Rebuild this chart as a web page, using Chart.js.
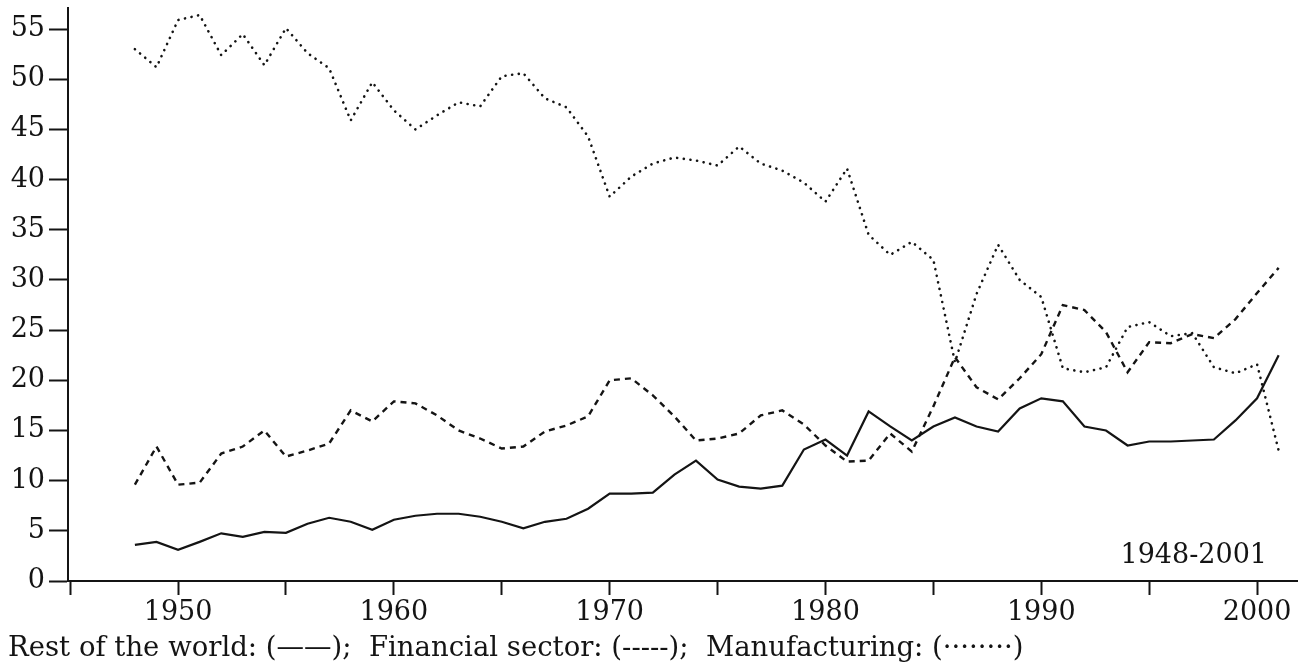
<!DOCTYPE html>
<html>
<head>
<meta charset="utf-8">
<script src="https://cdn.jsdelivr.net/npm/chart.js@4.4.1/dist/chart.umd.min.js"></script>
<style>
  body { margin: 0; background: #fff; }
  #wrap { position: relative; width: 1309px; height: 668px; }
</style>
</head>
<body>
<div id="wrap"><canvas id="chart"></canvas></div>
<script>
// values (share, %)
const years = [1948, 1949, 1950, 1951, 1952, 1953, 1954, 1955, 1956, 1957,
  1958, 1959, 1960, 1961, 1962, 1963, 1964, 1965, 1966, 1967,
  1968, 1969, 1970, 1971, 1972, 1973, 1974, 1975, 1976, 1977,
  1978, 1979, 1980, 1981, 1982, 1983, 1984, 1985, 1986, 1987,
  1988, 1989, 1990, 1991, 1992, 1993, 1994, 1995, 1996, 1997,
  1998, 1999, 2000, 2001];

const restOfWorld = [3.6, 3.9, 3.1, 3.9, 4.75, 4.4, 4.9, 4.8, 5.7, 6.3,
  5.9, 5.1, 6.1, 6.5, 6.7, 6.7, 6.4, 5.9, 5.25, 5.9,
  6.2, 7.2, 8.7, 8.7, 8.8, 10.6, 12.0, 10.1, 9.4, 9.2,
  9.5, 13.1, 14.1, 12.5, 16.9, 15.4, 14.0, 15.4, 16.3, 15.4,
  14.9, 17.2, 18.2, 17.9, 15.4, 15.0, 13.5, 13.9, 13.9, 14.0,
  14.1, 16.0, 18.2, 22.5];

const financialSector = [9.6, 13.4, 9.6, 9.8, 12.7, 13.4, 15.0, 12.4, 13.0, 13.7,
  17.0, 15.9, 17.9, 17.7, 16.5, 15.0, 14.2, 13.2, 13.4, 14.9,
  15.5, 16.4, 20.0, 20.2, 18.5, 16.4, 14.0, 14.2, 14.7, 16.5,
  17.0, 15.6, 13.5, 11.9, 12.0, 14.7, 12.9, 17.4, 22.3, 19.3,
  18.1, 20.2, 22.6, 27.5, 27.0, 24.8, 20.8, 23.8, 23.7, 24.6,
  24.2, 26.1, 28.7, 31.2];

const manufacturing = [53.0, 51.2, 55.9, 56.4, 52.4, 54.5, 51.4, 55.1, 52.6, 51.1,
  45.9, 49.7, 46.9, 45.0, 46.4, 47.7, 47.3, 50.3, 50.6, 48.1,
  47.2, 44.3, 38.3, 40.3, 41.6, 42.2, 41.9, 41.4, 43.3, 41.6,
  40.9, 39.7, 37.8, 41.1, 34.5, 32.5, 33.8, 32.0, 21.8, 28.6,
  33.5, 30.0, 28.3, 21.2, 20.8, 21.3, 25.3, 25.8, 24.4, 24.7,
  21.3, 20.7, 21.6, 13.0];

const xTickValues = [1945, 1950, 1955, 1960, 1965, 1970, 1975, 1980, 1985, 1990, 1995, 2000];
const xTickLabels = ['', '1950', '', '1960', '', '1970', '', '1980', '', '1990', '', '2000'];
const yTickValues = [0, 5, 10, 15, 20, 25, 30, 35, 40, 45, 50, 55];

const periodLabel = '1948-2001';
const legendLabel = 'Rest of the world: (——);  Financial sector: (-----);  Manufacturing: (········)';

const ink = '#141414';
const serif = 'DejaVu Serif';

function pairs(vals) {
  return years.map(function(yr, i) { return {x: yr, y: vals[i]}; });
}

const textPlugin = {
  id: 'texts',
  afterDraw: function(chart) {
    const ctx = chart.ctx;
    const area = chart.chartArea;
    ctx.save();
    ctx.fillStyle = ink;
    ctx.font = '27px "' + serif + '"';
    ctx.textBaseline = 'alphabetic';
    ctx.textAlign = 'right';
    ctx.fillText(periodLabel, area.right - 30, area.bottom - 18);
    ctx.textAlign = 'left';
    ctx.font = '27.5px "' + serif + '"';
    ctx.fillText(legendLabel, 8, 656);
    ctx.restore();
  }
};

new Chart(document.getElementById('chart'), {
  type: 'line',
  data: {
    datasets: [
      {
        label: 'Rest of the world',
        data: pairs(restOfWorld),
        borderColor: ink,
        borderWidth: 2.2,
        pointRadius: 0,
        tension: 0
      },
      {
        label: 'Financial sector',
        data: pairs(financialSector),
        borderColor: ink,
        borderWidth: 2.4,
        borderDash: [6, 5],
        pointRadius: 0,
        tension: 0
      },
      {
        label: 'Manufacturing',
        data: pairs(manufacturing),
        borderColor: ink,
        borderWidth: 2.6,
        borderDash: [0.1, 6.6],
        borderCapStyle: 'round',
        pointRadius: 0,
        tension: 0
      }
    ]
  },
  options: {
    responsive: true,
    maintainAspectRatio: false,
    animation: false,
    layout: { padding: { top: 8, right: 12, bottom: 47, left: 0 } },
    plugins: {
      legend: { display: false },
      tooltip: { enabled: false }
    },
    scales: {
      x: {
        type: 'linear',
        min: 1944.9,
        max: 2001.85,
        afterBuildTicks: function(scale) {
          scale.ticks = xTickValues.map(function(v) { return {value: v}; });
        },
        afterFit: function(scale) {
          scale.height = 40;
          scale.paddingLeft = 0;
          scale.paddingRight = 0;
        },
        ticks: {
          autoSkip: false,
          maxRotation: 0,
          padding: 2,
          color: ink,
          font: { family: serif, size: 27 },
          callback: function(v) {
            const i = xTickValues.indexOf(v);
            return i >= 0 ? xTickLabels[i] : '';
          }
        },
        grid: {
          drawOnChartArea: false,
          drawTicks: true,
          tickLength: 14,
          tickWidth: 2,
          tickColor: ink
        },
        border: { display: true, color: ink, width: 2 }
      },
      y: {
        min: 0,
        max: 57.1,
        afterBuildTicks: function(scale) {
          scale.ticks = yTickValues.map(function(v) { return {value: v}; });
        },
        afterFit: function(scale) {
          scale.width = 68;
          scale.paddingTop = 0;
          scale.paddingBottom = 0;
        },
        ticks: {
          padding: 4,
          color: ink,
          font: { family: serif, size: 27 }
        },
        grid: {
          drawOnChartArea: false,
          drawTicks: true,
          tickLength: 19,
          tickWidth: 2,
          tickColor: ink
        },
        border: { display: true, color: ink, width: 2 }
      }
    }
  },
  plugins: [textPlugin]
});
</script>
</body>
</html>
